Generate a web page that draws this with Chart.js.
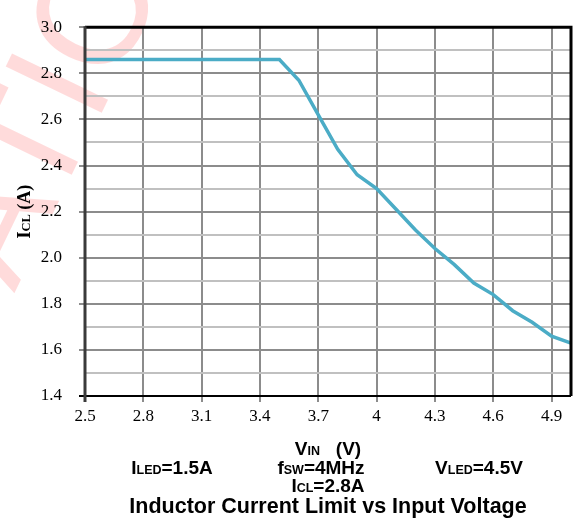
<!DOCTYPE html>
<html>
<head>
<meta charset="utf-8">
<script src="https://cdn.jsdelivr.net/npm/chart.js@4.4.0/dist/chart.umd.min.js"></script>
<style>
  html, body { margin: 0; padding: 0; background: #fff; }
  #wrap { width: 573px; height: 526px; position: relative; }
</style>
</head>
<body>
<div id="wrap"><canvas id="iclChart"></canvas></div>
<script>
// input voltage (V) and measured inductor current limit (A)
const vin = [2.5, 2.6, 2.7, 2.8, 2.9, 3.0, 3.1, 3.2, 3.3, 3.4, 3.5,
             3.6, 3.7, 3.8, 3.9, 4.0, 4.1, 4.2, 4.3, 4.4, 4.5, 4.6, 4.7, 4.8, 4.9, 5.0];
const icl = [2.86, 2.86, 2.86, 2.86, 2.86, 2.86, 2.86, 2.86, 2.86, 2.86, 2.86,
             2.77, 2.62, 2.47, 2.36, 2.30, 2.21, 2.12, 2.04, 1.97, 1.89, 1.84, 1.77, 1.72, 1.66, 1.63];

// axis ticks
const xTicks = [2.5, 2.8, 3.1, 3.4, 3.7, 4.0, 4.3, 4.6, 4.9];
const xTickLabels = ['2.5', '2.8', '3.1', '3.4', '3.7', '4', '4.3', '4.6', '4.9'];
const yTicks = [1.4, 1.6, 1.8, 2.0, 2.2, 2.4, 2.6, 2.8, 3.0];
const yTickLabels = ['1.4', '1.6', '1.8', '2.0', '2.2', '2.4', '2.6', '2.8', '3.0'];
const yMinor = [1.5, 1.7, 1.9, 2.1, 2.3, 2.5, 2.7, 2.9];

const SANS = '"Liberation Sans", Arial, sans-serif';
const SERIF = '"Liberation Serif", "DejaVu Serif", serif';

const yAll = yTicks.concat(yMinor).sort((a, b) => a - b);
const isMajorY = v => yTicks.some(t => Math.abs(t - v) < 1e-6);

// draws text made of parts with different font sizes, centred on cx
function rich(ctx, parts, cx, baseY) {
    let w = 0;
    parts.forEach(p => { ctx.font = p[1]; w += ctx.measureText(p[0]).width; });
    let x = cx - w / 2;
    ctx.textAlign = 'left';
    ctx.textBaseline = 'alphabetic';
    parts.forEach(p => {
        ctx.font = p[1];
        ctx.fillText(p[0], x, baseY);
        x += ctx.measureText(p[0]).width;
    });
}

const big = 'bold 19px ' + SANS;
const small = 'bold 12.5px ' + SANS;

const watermark = {
    id: 'watermark',
    beforeDraw(chart) {
        const ctx = chart.ctx;
        ctx.save();
        ctx.translate(102, 14);
        ctx.rotate(-1.12);
        ctx.font = '155px ' + SANS;
        ctx.fillStyle = 'rgba(255, 0, 0, 0.14)';
        ctx.textBaseline = 'middle';
        const pre = 'EVALUATI';
        const w = ctx.measureText(pre).width + ctx.measureText('O').width / 2;
        ctx.textAlign = 'left';
        ctx.fillText('EVALUATION', -w, 0);
        ctx.restore();
    }
};

const frameAndText = {
    id: 'frameAndText',
    afterDraw(chart) {
        const ctx = chart.ctx;
        const a = chart.chartArea;
        ctx.save();
        // plot frame
        ctx.strokeStyle = '#000';
        ctx.lineWidth = 3;
        ctx.beginPath();
        ctx.moveTo(a.left, a.top);
        ctx.lineTo(a.right, a.top);
        ctx.lineTo(a.right, a.bottom);
        ctx.stroke();
        ctx.lineWidth = 2;
        ctx.beginPath();
        ctx.moveTo(a.left - 6, a.bottom);
        ctx.lineTo(a.right, a.bottom);
        ctx.stroke();
        ctx.strokeStyle = '#3a3a3a';
        ctx.lineWidth = 3;
        ctx.beginPath();
        ctx.moveTo(a.left, a.top - 1);
        ctx.lineTo(a.left, a.bottom + 6);
        ctx.stroke();

        ctx.fillStyle = '#000';
        // y-axis title
        ctx.save();
        ctx.translate(24, (a.top + a.bottom) / 2);
        ctx.rotate(-Math.PI / 2);
        rich(ctx, [['I', 'bold 18px ' + SERIF], ['CL', 'bold 12.5px ' + SERIF], [' (A)', 'bold 18px ' + SERIF]], 0, 6);
        ctx.restore();

        const cx = 328;
        rich(ctx, [['V', big], ['IN', small], ['   (V)', big]], cx, 455);
        rich(ctx, [['I', big], ['LED', small], ['=1.5A', big]], 172, 474);
        rich(ctx, [['f', big], ['SW', small], ['=4MHz', big]], 321, 474);
        rich(ctx, [['V', big], ['LED', small], ['=4.5V', big]], 479, 474);
        rich(ctx, [['I', big], ['CL', small], ['=2.8A', big]], cx, 492);
        ctx.font = 'bold 21.5px ' + SANS;
        ctx.textAlign = 'center';
        ctx.fillText('Inductor Current Limit vs Input Voltage', cx, 513);
        ctx.restore();
    }
};

const ctx = document.getElementById('iclChart').getContext('2d');
new Chart(ctx, {
    type: 'line',
    data: {
        datasets: [{
            label: 'ICL',
            data: vin.map((v, i) => ({ x: v, y: icl[i] })),
            borderColor: '#4bacc6',
            borderWidth: 3.5,
            pointRadius: 0,
            tension: 0,
            fill: false
        }]
    },
    options: {
        responsive: true,
        maintainAspectRatio: false,
        animation: false,
        layout: { padding: { top: 17, right: 2, left: 0, bottom: 0 } },
        plugins: {
            legend: { display: false },
            tooltip: { enabled: false }
        },
        scales: {
            x: {
                type: 'linear',
                min: 2.5,
                max: 5.0,
                afterBuildTicks: s => { s.ticks = xTicks.map(v => ({ value: v })); },
                afterFit: s => { s.height = 130; },
                border: { display: false },
                grid: { color: '#8c8c8c', lineWidth: 2, tickLength: 6, tickColor: '#8c8c8c' },
                ticks: {
                    color: '#000',
                    font: { family: SERIF, size: 17 },
                    padding: 4,
                    maxRotation: 0,
                    autoSkip: false,
                    callback: v => xTickLabels[xTicks.findIndex(t => Math.abs(t - v) < 1e-6)]
                }
            },
            y: {
                min: 1.4,
                max: 3.0,
                afterBuildTicks: s => { s.ticks = yAll.map(v => ({ value: v })); },
                afterFit: s => { s.width = 85; },
                border: { display: false },
                grid: {
                    color: c => isMajorY(c.tick.value) ? '#8c8c8c' : '#c0c0c0',
                    tickColor: c => isMajorY(c.tick.value) ? '#8c8c8c' : 'rgba(0,0,0,0)',
                    lineWidth: 2,
                    tickLength: 6
                },
                ticks: {
                    color: '#000',
                    font: { family: SERIF, size: 17 },
                    padding: 17,
                    autoSkip: false,
                    callback: v => {
                        const i = yTicks.findIndex(t => Math.abs(t - v) < 1e-6);
                        return i >= 0 ? yTickLabels[i] : '';
                    }
                }
            }
        }
    },
    plugins: [watermark, frameAndText]
});
</script>
</body>
</html>
